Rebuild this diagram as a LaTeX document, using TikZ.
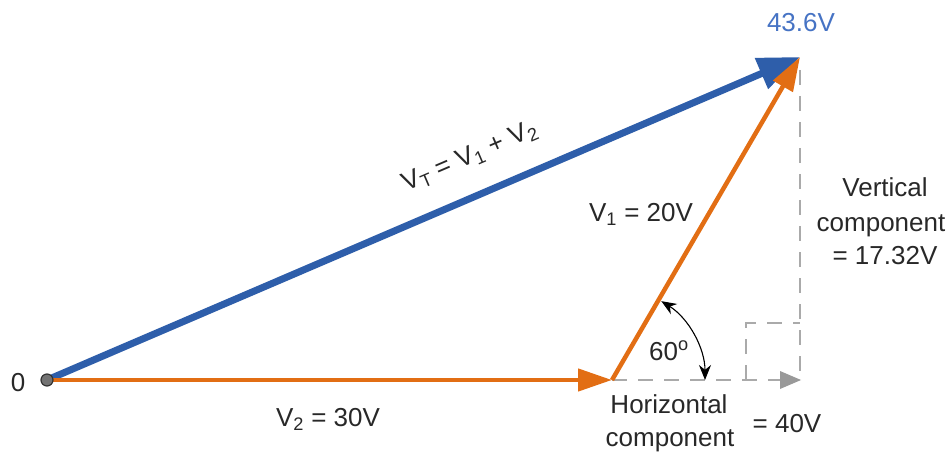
\documentclass[tikz,border=0pt]{standalone}
\usepackage{fontspec}
\setmainfont{Liberation Sans}
\usetikzlibrary{arrows.meta}
\definecolor{vblue}{RGB}{46,94,170}
\definecolor{lblue}{RGB}{70,115,196}
\definecolor{vorange}{RGB}{226,110,20}
\definecolor{dgray}{RGB}{170,170,170}
\definecolor{tgray}{RGB}{40,40,40}
\begin{document}
\begin{tikzpicture}[x=1pt,y=-1pt,
  font=\fontsize{26}{30}\selectfont, text=tgray,
  bluevec/.style={draw=vblue, line width=7pt, -{Triangle[length=42pt,width=32pt]}, fill=vblue},
  orangevec/.style={draw=vorange, line width=4.5pt, -{Triangle[length=34pt,width=22pt]}, fill=vorange},
  dashline/.style={draw=dgray, line width=1.8pt, dash pattern=on 15pt off 11pt},
  lbl/.style={inner sep=0pt, anchor=base}]
\useasboundingbox (0,0) rectangle (952,454);
\coordinate (O) at (47,380);
\coordinate (A) at (612,380);
\coordinate (B) at (800,57);
\coordinate (C) at (800,380);
\coordinate (Bt) at (800,70);
\coordinate (Ch) at (780,380);
\coordinate (R1) at (746,380);
\coordinate (R2) at (746,323);
\coordinate (R3) at (800,323);
% dashed components
\draw[dashline] (Bt) -- (C);
\draw[dashline] (A) -- (Ch);
\draw[dashline] (R1) -- (R2) -- (R3);
\draw[draw=none, fill=dgray!90!black] (780,371) -- (801,380) -- (780,389) -- cycle;
% vectors
\draw[bluevec] (O) -- (B);
\draw[orangevec] (O) -- (A);
\draw[orangevec] (A) -- (B);
% origin dot
\node[circle, fill=black!55, draw=black!80, line width=1.2pt, inner sep=0pt, minimum size=12pt] (o) at (O) {};
% angle arc
\draw[black, line width=1.1pt, {Stealth[length=15pt,width=12pt]}-{Stealth[length=15pt,width=12pt]}]
  ([shift={(-58:93)}]A) arc[start angle=-58, end angle=0, radius=93];
% labels
\node[lbl, text=lblue] (t1) at (801,32) {43.6V};
\node[lbl] (t0) at (18,391) {0};
\node[inner sep=0pt, anchor=center, rotate=23.2] (tvt) at (470,157) {V\textsubscript{T} = V\textsubscript{1} + V\textsubscript{2}};
\node[lbl] (tv1) at (641,222) {V\textsubscript{1} = 20V};
\node[lbl] (tv2) at (328,426) {V\textsubscript{2} = 30V};
\node[lbl] (t60) at (669,360) {60\textsuperscript{o}};
\node[lbl] (tve1) at (885,197) {Vertical};
\node[lbl] (tve2) at (881,232) {component};
\node[lbl] (tve3) at (885,265) {= 17.32V};
\node[lbl] (tho1) at (669,413) {Horizontal};
\node[lbl] (tho2) at (670,446) {component};
\node[lbl] (tho3) at (787,432) {= 40V};
\end{tikzpicture}
\end{document}
